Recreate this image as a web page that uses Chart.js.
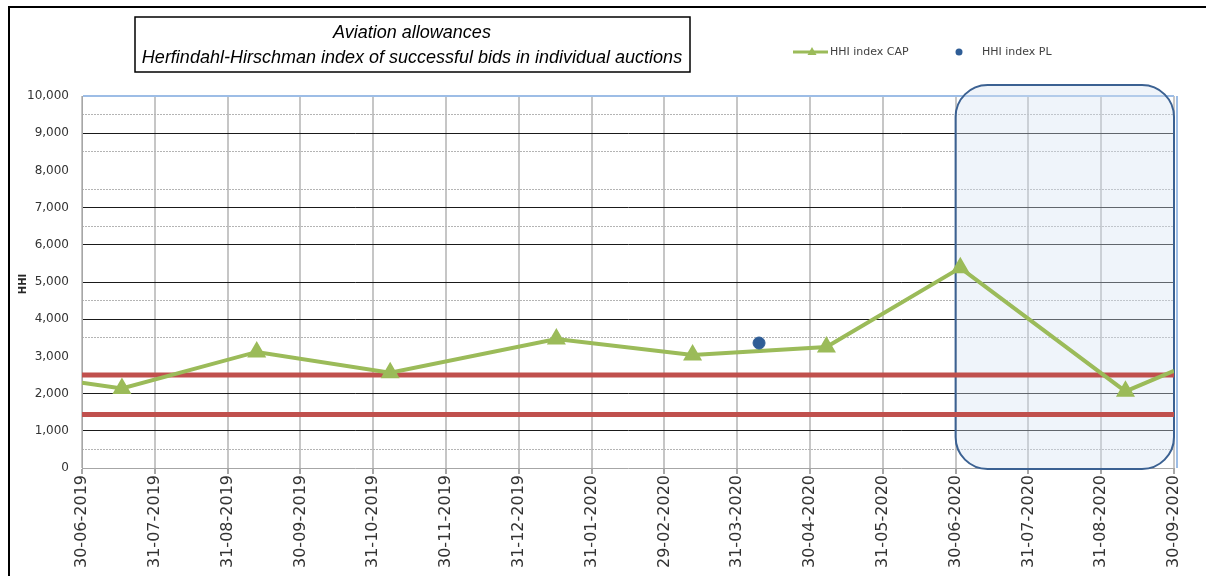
<!DOCTYPE html>
<html>
<head>
<meta charset="utf-8">
<script src="https://cdn.jsdelivr.net/npm/chart.js@4.4.1/dist/chart.umd.min.js"></script>
<style>
  html, body { margin: 0; padding: 0; background: #fff; }
  #wrap { position: relative; width: 1206px; height: 576px; overflow: hidden; }
  #frame { position: absolute; left: 8px; top: 6px; right: -4px; bottom: -4px; border-top: 2px solid #000; border-left: 2px solid #000; pointer-events: none; }
  canvas { position: absolute; left: 0; top: 0; }
</style>
</head>
<body>
<div id="wrap"><canvas id="hhi" width="1206" height="576"></canvas><div id="frame"></div></div>
<script>
// tick labels (month ends)
var tickLabels = ['30-06-2019', '31-07-2019', '31-08-2019', '30-09-2019', '31-10-2019', '30-11-2019',
    '31-12-2019', '31-01-2020', '29-02-2020', '31-03-2020', '30-04-2020', '31-05-2020',
    '30-06-2020', '31-07-2020', '31-08-2020', '30-09-2020'];

// HHI index CAP (first / last are the line ends at the chart edges)
var capDates = ['2019-06-30', '2019-07-17', '2019-09-12', '2019-11-07', '2020-01-16', '2020-03-12',
    '2020-05-07', '2020-07-02', '2020-09-10', '2020-09-30'];
var capValues = [2290, 2140, 3120, 2560, 3470, 3040, 3255, 5380, 2060, 2610];

// HHI index PL
var plDates = ['2020-04-09'];
var plValues = [3360];

// red reference lines
var thresholds = [2500, 1440];

// highlighted period
var shadeFrom = '2020-06-30';
var shadeTo = '2020-09-30';

// date -> position on the month axis (0 = 30-06-2019)
function monthPos(s) {
    var p = s.split('-').map(Number);
    var dim = new Date(p[0], p[1], 0).getDate();
    return (p[0] - 2019) * 12 + (p[1] - 7) + p[2] / dim;
}

var capPoints = capDates.map(function (d, i) { return { x: monthPos(d), y: capValues[i] }; });
var plPoints = plDates.map(function (d, i) { return { x: monthPos(d), y: plValues[i] }; });
var xMax = tickLabels.length - 1;

var redSets = thresholds.map(function (t) {
    return {
        label: 'ref ' + t,
        data: [{ x: 0, y: t }, { x: xMax, y: t }],
        borderColor: '#c0504d',
        borderWidth: 5,
        pointRadius: 0
    };
});

var green = '#9bbb59';
var blue = '#2f5d96';

var decor = {
    id: 'decor',
    beforeDatasetsDraw: function (chart) {
        var c = chart.ctx, xs = chart.scales.x, ys = chart.scales.y;
        var x1 = xs.getPixelForValue(monthPos(shadeFrom));
        var x2 = xs.getPixelForValue(monthPos(shadeTo));
        var y1 = ys.getPixelForValue(10000) - 11;
        var y2 = ys.getPixelForValue(0) + 1;
        c.save();
        c.beginPath();
        c.roundRect(x1, y1, x2 - x1, y2 - y1, 32);
        c.fillStyle = 'rgba(214,226,241,0.38)';
        c.fill();
        c.lineWidth = 2;
        c.strokeStyle = '#3b6192';
        c.stroke();
        // right border of plot area
        var a = chart.chartArea;
        c.beginPath();
        c.moveTo(a.right + 3, a.top);
        c.lineTo(a.right + 3, a.bottom);
        c.strokeStyle = '#9dbde6';
        c.lineWidth = 2;
        c.stroke();
        c.restore();
    },
    afterDraw: function (chart) {
        var c = chart.ctx;
        c.save();
        // title box
        c.fillStyle = '#fff';
        c.fillRect(135, 17, 555, 55);
        c.strokeStyle = '#000';
        c.lineWidth = 1.5;
        c.strokeRect(135, 17, 555, 55);
        c.fillStyle = '#000';
        c.font = 'italic 18px "Liberation Sans"';
        c.textAlign = 'center';
        c.textBaseline = 'middle';
        c.fillText('Aviation allowances', 412, 33);
        c.fillText('Herfindahl-Hirschman index of successful bids in individual auctions', 412, 58);

        // legend
        c.strokeStyle = green;
        c.lineWidth = 3;
        c.beginPath();
        c.moveTo(793, 52);
        c.lineTo(828, 52);
        c.stroke();
        c.fillStyle = green;
        c.beginPath();
        c.moveTo(812, 47);
        c.lineTo(816.5, 55);
        c.lineTo(807.5, 55);
        c.closePath();
        c.fill();
        c.fillStyle = blue;
        c.beginPath();
        c.arc(959, 52, 3.5, 0, Math.PI * 2);
        c.fill();
        c.fillStyle = '#404040';
        c.font = '11px "DejaVu Sans"';
        c.textAlign = 'left';
        c.fillText('HHI index CAP', 830, 52);
        c.fillText('HHI index PL', 982, 52);

        // y axis title
        c.translate(23, 284);
        c.rotate(-Math.PI / 2);
        c.textAlign = 'center';
        c.fillStyle = '#262626';
        c.font = 'bold 10px "DejaVu Sans"';
        c.fillText('HHI', 0, 0);
        c.restore();
    }
};

var hiddenMajor = [0, 3000, 8000];
var hiddenMinor = [5500];

var ctx = document.getElementById('hhi').getContext('2d');
new Chart(ctx, {
    type: 'line',
    data: {
        datasets: [
            {
                label: 'HHI index PL',
                data: plPoints,
                showLine: false,
                pointStyle: 'circle',
                pointRadius: 6,
                pointBackgroundColor: blue,
                pointBorderColor: blue
            },
            {
                label: 'HHI index CAP',
                data: capPoints,
                borderColor: green,
                borderWidth: 4,
                tension: 0,
                pointStyle: 'triangle',
                pointRadius: function (c) { return (c.dataIndex === 0 || c.dataIndex === capPoints.length - 1) ? 0 : 7; },
                pointBackgroundColor: green,
                pointBorderColor: green
            }
        ].concat(redSets)
    },
    options: {
        responsive: false,
        animation: false,
        layout: { padding: { top: 96, right: 32, left: 0, bottom: 0 } },
        plugins: { legend: { display: false }, tooltip: { enabled: false } },
        scales: {
            x: {
                type: 'linear',
                min: 0,
                max: xMax,
                afterBuildTicks: function (s) { s.ticks = tickLabels.map(function (l, i) { return { value: i }; }); },
                ticks: {
                    autoSkip: false,
                    minRotation: 90,
                    maxRotation: 90,
                    padding: 1,
                    color: '#333333',
                    font: { family: 'DejaVu Sans', size: 16 },
                    callback: function (v) { return tickLabels[v]; }
                },
                grid: { color: '#c6c6c6', lineWidth: 2, tickLength: 6, tickColor: '#a6a6a6' },
                border: { color: '#a6a6a6', width: 1 },
                afterFit: function (s) { s.height = 108; }
            },
            y: {
                min: 0,
                max: 10000,
                ticks: {
                    stepSize: 1000,
                    padding: 13,
                    color: '#333333',
                    font: { family: 'DejaVu Sans', size: 12 },
                    callback: function (v) { return v.toLocaleString('en-US'); }
                },
                grid: {
                    drawTicks: false,
                    lineWidth: function (c) { return c.tick.value === 10000 ? 2 : 1; },
                    color: function (c) {
                        var v = c.tick.value;
                        if (v === 10000) return '#9dbde6';
                        if (hiddenMajor.indexOf(v) >= 0) return 'rgba(0,0,0,0)';
                        return '#1a1a1a';
                    }
                },
                border: { color: '#a6a6a6', width: 1 },
                afterFit: function (s) { s.width = 82; }
            },
            y2: {
                position: 'left',
                min: 0,
                max: 10000,
                ticks: { display: false, stepSize: 500 },
                grid: {
                    drawTicks: false,
                    lineWidth: 1,
                    color: function (c) {
                        var v = c.tick.value;
                        if (v % 1000 === 0 || hiddenMinor.indexOf(v) >= 0) return 'rgba(0,0,0,0)';
                        return '#b4b4b4';
                    }
                },
                border: { display: false, dash: [2, 1] },
                afterFit: function (s) { s.width = 0; }
            }
        }
    },
    plugins: [decor]
});
</script>
</body>
</html>
